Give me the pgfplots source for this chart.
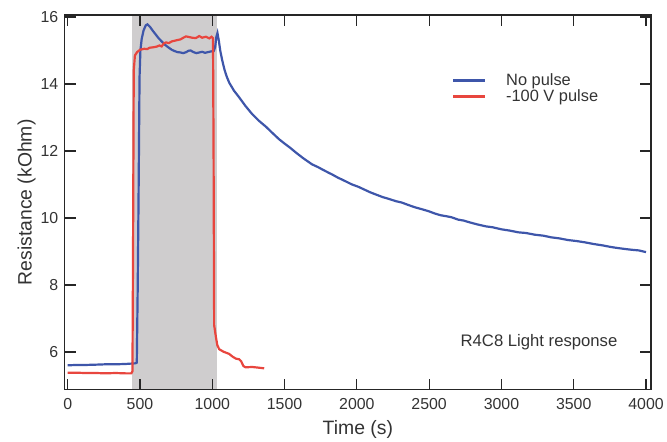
\documentclass[border=0pt]{standalone}
\usepackage{fontspec}
\setmainfont{Liberation Sans}
\usepackage{pgfplots}
\pgfplotsset{compat=1.18}
\definecolor{noPulse}{RGB}{62,86,170}
\definecolor{negPulse}{RGB}{232,70,62}
\definecolor{lampOn}{RGB}{207,205,206}
\definecolor{inkgray}{RGB}{51,51,51}

\begin{document}
\begin{tikzpicture}
\begin{axis}[
  name=ax,
  scale only axis,
  width=588bp, height=376bp,
  xmin=-20, xmax=4034, ymin=4.87, ymax=16.06,
  xtick={0,500,...,4000}, ytick={6,8,...,16},
  scaled ticks=false,
  tick align=inside, major tick length=11bp,
  tick style={line width=1.2bp, color=black!85},
  axis line style={line width=1.4bp, color=black!85},
  axis on top,
  /pgf/number format/assume math mode=true,
  /pgf/number format/1000 sep={},
  ticklabel style={font=\fontsize{16}{18}\selectfont, text=inkgray},
  xticklabel style={yshift=-5bp},
  yticklabel style={xshift=-3bp},
  xlabel={Time (s)}, ylabel={Resistance (kOhm)},
  xlabel style={at={(axis description cs:0.5,-0.105)}, anchor=center,
    font=\fontsize{19.5}{22}\selectfont, text=inkgray},
  ylabel style={at={(axis description cs:-0.065,0.5)}, anchor=center, rotate=0,
    font=\fontsize{19.5}{22}\selectfont, text=inkgray},
  legend style={draw=none, fill=none, at={(axis description cs:0.660,0.85)},
    anchor=north west, font=\fontsize{16.5}{19}\selectfont, text=inkgray,
    row sep=-1bp, inner sep=0pt},
  legend cell align=left,
  legend image code/.code={\draw[#1, line width=3bp] (0bp,0bp) -- (32bp,0bp); \path[draw=none] (0bp,0bp) -- (51bp,0bp);},
]
% lamp on interval
\addplot[draw=none, fill=lampOn, forget plot]
  coordinates {(448,4.0) (448,17) (1034,17) (1034,4.0)} -- cycle;

\addplot[noPulse, line width=2.2bp] coordinates {
(0,5.60)(60,5.61)(120,5.61)(200,5.62)(260,5.63)(330,5.63)(400,5.64)(470,5.66)(478,5.68)
(484,7.8)(490,10.5)(497,14.2)(503,15.0)(512,15.35)(525,15.6)(540,15.75)(552,15.78)
(570,15.70)(590,15.58)(610,15.47)(630,15.36)(650,15.27)(670,15.18)(700,15.08)(720,15.02)
(740,14.98)(760,14.95)(780,14.94)(800,14.92)(820,14.95)(835,14.99)(850,15.00)(870,14.95)
(890,14.92)(910,14.94)(930,14.96)(950,14.93)(970,14.95)(990,14.97)(1010,14.98)(1020,15.10)
(1028,15.40)(1036,15.52)(1045,15.30)(1055,15.00)(1068,14.72)(1085,14.42)(1100,14.22)
(1117,14.04)(1150,13.80)(1186,13.60)(1230,13.34)(1276,13.10)(1320,12.91)(1372,12.72)
(1420,12.52)(1462,12.35)(1500,12.22)(1540,12.09)(1579,11.95)(1630,11.78)(1690,11.60)
(1730,11.52)(1760,11.45)(1800,11.36)(1828,11.30)(1870,11.20)(1900,11.14)(1966,11.00)
(2010,10.93)(2050,10.85)(2090,10.77)(2131,10.70)(2180,10.62)(2220,10.57)(2270,10.50)
(2310,10.46)(2360,10.38)(2400,10.32)(2450,10.26)(2497,10.20)(2540,10.13)(2580,10.08)
(2620,10.05)(2655,10.02)(2700,9.95)(2740,9.92)(2770,9.88)(2830,9.81)(2890,9.75)
(2940,9.72)(3000,9.66)(3060,9.62)(3117,9.57)(3170,9.55)(3230,9.50)(3290,9.47)
(3345,9.42)(3400,9.39)(3460,9.34)(3520,9.31)(3579,9.27)(3640,9.22)(3700,9.18)
(3760,9.13)(3807,9.10)(3860,9.07)(3900,9.05)(3950,9.03)(4000,8.98)
};
\addlegendentry{No pulse}

\addplot[negPulse, line width=2.2bp] coordinates {
(0,5.38)(60,5.38)(120,5.37)(200,5.37)(260,5.36)(330,5.37)(400,5.36)(440,5.36)(448,5.42)
(452,9.0)(457,14.4)(465,14.85)(480,14.95)(500,15.02)(530,15.05)(550,15.04)(566,15.08)
(600,15.10)(620,15.12)(634,15.15)(650,15.12)(665,15.21)(680,15.24)(700,15.22)(720,15.27)
(749,15.30)(780,15.33)(800,15.38)(818,15.42)(840,15.40)(860,15.38)(887,15.37)(910,15.43)
(930,15.38)(956,15.41)(980,15.36)(995,15.41)(1005,15.37)(1009,12.0)(1013,6.8)(1025,6.45)
(1035,6.20)(1048,6.08)(1080,6.00)(1100,5.97)(1117,5.94)(1140,5.86)(1163,5.80)(1186,5.78)
(1200,5.72)(1215,5.58)(1230,5.54)(1276,5.55)(1320,5.53)(1359,5.51)
};
\addlegendentry{-100 V pulse}

\node[font=\fontsize{16.8}{19}\selectfont, text=inkgray] at (axis cs:3260,6.30) {R4C8 Light response};
\end{axis}
\path ([xshift=-65bp,yshift=-51bp]ax.south west) rectangle ([xshift=14bp,yshift=15bp]ax.north east);
\end{tikzpicture}
\end{document}
